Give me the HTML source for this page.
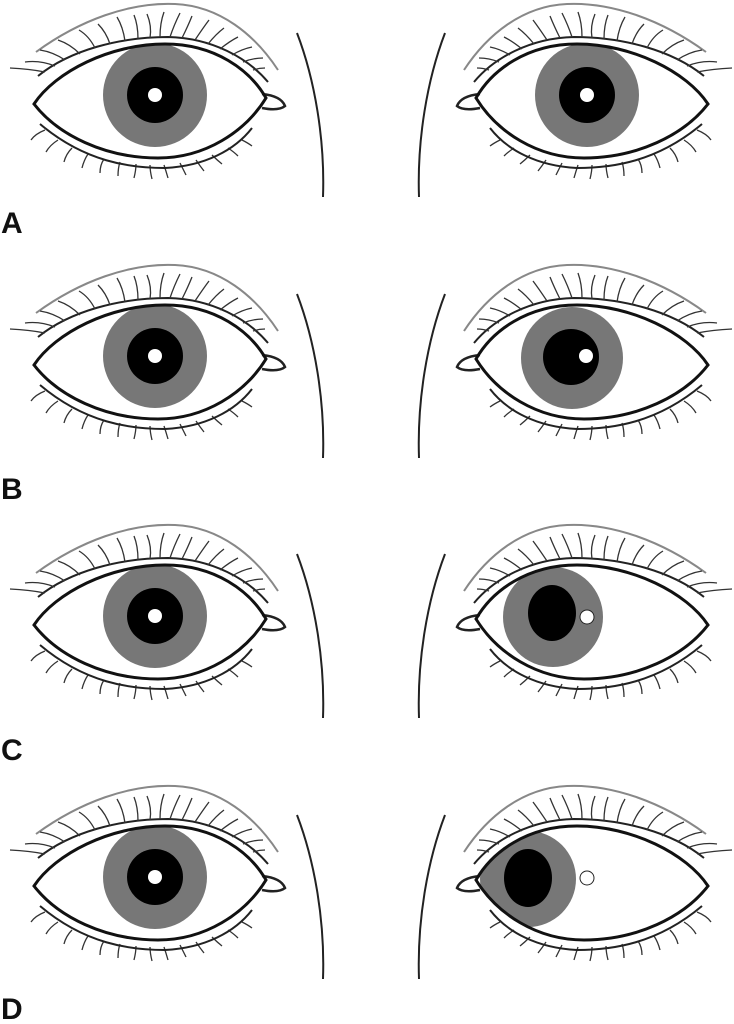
<!DOCTYPE html>
<html><head><meta charset="utf-8"><style>
html,body{margin:0;padding:0;background:#fff;width:734px;height:1024px;overflow:hidden}
svg{display:block}
.lbl{font-family:"Liberation Sans",sans-serif;font-weight:bold;font-size:30px;fill:#111}
</style></head><body>
<svg width="734" height="1024" viewBox="0 0 734 1024" xmlns="http://www.w3.org/2000/svg">
<defs>
<path id="outline" d="M34,104 C55,72 110,44 165,44 C215,44 250,70 266,98 C245,132 205,158 158,158 C105,158 58,135 34,104 Z"/>
<clipPath id="cl"><use href="#outline"/></clipPath>
<clipPath id="cr"><use href="#outline" transform="translate(742,0) scale(-1,1)"/></clipPath>
<g id="eye">
  <path d="M36,52 C80,20 130,2 175,4 C220,6 255,35 278,70" fill="none" stroke="#888" stroke-width="2"/>
  <path d="M38,76 C70,50 120,37 168,37 C212,38 248,58 268,82" fill="none" stroke="#222" stroke-width="2"/>
  <g fill="none" stroke="#333" stroke-width="1.3">
    <path d="M45,72 q-15,-3 -35,-4"/><path d="M55,66 q-15,-6 -30,-4"/><path d="M65,60 q-12,-8 -25,-10"/><path d="M80,54 q-10,-10 -22,-14"/><path d="M95,48 q-6,-12 -16,-18"/><path d="M110,44 q-4,-12 -12,-20"/><path d="M125,41 q-2,-14 -8,-24"/><path d="M138,39 q0,-14 -4,-24"/><path d="M150,38 q2,-12 -3,-24"/><path d="M160,37 q0,-14 4,-25"/><path d="M170,37 q4,-12 10,-24"/><path d="M182,38 q6,-12 10,-22"/><path d="M195,40 q8,-12 14,-20"/><path d="M208,44 q8,-10 16,-16"/><path d="M220,49 q10,-8 18,-12"/><path d="M232,55 q10,-6 20,-8"/><path d="M243,62 q10,-4 20,-4"/><path d="M253,70 q6,-2 12,-2"/>
    <path d="M45,130 q-10,4 -14,10"/><path d="M58,140 q-8,5 -12,12"/><path d="M72,148 q-6,6 -8,14"/><path d="M88,154 q-4,6 -6,14"/><path d="M104,159 q-4,6 -4,14"/><path d="M120,162 q-2,6 -2,14"/><path d="M136,164 q0,6 -2,14"/><path d="M150,165 q0,6 2,14"/><path d="M164,165 q2,6 4,13"/><path d="M180,163 q3,6 6,12"/><path d="M196,160 q4,6 8,11"/><path d="M212,155 q5,5 10,9"/><path d="M228,148 q6,4 10,8"/><path d="M242,140 q6,3 10,6"/>
  </g>
  <path d="M40,124 C85,162 130,168 165,168 C205,166 235,150 252,128" fill="none" stroke="#222" stroke-width="2"/>
  <path d="M262,94 C272,95 282,98 285,106 C280,110 272,110 262,108" fill="#fff" stroke="#222" stroke-width="2.5"/>
</g>
<g id="eyeline"><use href="#outline" fill="none" stroke="#111" stroke-width="3"/></g>
<g id="face"><path d="M297,33 C315,80 325,140 323,197" fill="none" stroke="#222" stroke-width="2"/></g>
<g id="lefteye">
  <use href="#eye"/>
  <g clip-path="url(#cl)"><circle cx="155" cy="95" r="52" fill="#777"/><circle cx="155" cy="95" r="28" fill="#000"/><circle cx="155" cy="95" r="7" fill="#fff"/></g>
  <use href="#eyeline"/>
  <use href="#face"/>
</g>
<g id="rightbase" transform="translate(742,0) scale(-1,1)">
  <use href="#eye"/><use href="#face"/>
</g>
</defs>

<use href="#lefteye"/>
<use href="#rightbase"/>
<g clip-path="url(#cr)"><circle cx="587" cy="95" r="52" fill="#777"/><circle cx="587" cy="95" r="28" fill="#000"/><circle cx="587" cy="95" r="7" fill="#fff"/></g>
<use href="#eyeline" transform="translate(742,0) scale(-1,1)"/>
<text class="lbl" x="1" y="233">A</text>

<g transform="translate(0,261)">
<use href="#lefteye"/>
<use href="#rightbase"/>
<g clip-path="url(#cr)"><circle cx="572" cy="97" r="51" fill="#777"/><circle cx="571" cy="96" r="28" fill="#000"/><circle cx="586" cy="95" r="7" fill="#fff"/></g>
<use href="#eyeline" transform="translate(742,0) scale(-1,1)"/>
</g>
<text class="lbl" x="1" y="499">B</text>

<g transform="translate(0,521)">
<use href="#lefteye"/>
<use href="#rightbase"/>
<g clip-path="url(#cr)"><circle cx="553" cy="96" r="50" fill="#777"/><ellipse cx="552" cy="92" rx="24" ry="28" fill="#000"/><circle cx="587" cy="96" r="7" fill="#fff" stroke="#222" stroke-width="1"/></g>
<use href="#eyeline" transform="translate(742,0) scale(-1,1)"/>
</g>
<text class="lbl" x="1" y="760">C</text>

<g transform="translate(0,782)">
<use href="#lefteye"/>
<use href="#rightbase"/>
<g clip-path="url(#cr)"><circle cx="528" cy="97" r="48" fill="#777"/><ellipse cx="528" cy="96" rx="24" ry="29" fill="#000"/><circle cx="587" cy="96" r="7" fill="#fff" stroke="#222" stroke-width="1"/></g>
<use href="#eyeline" transform="translate(742,0) scale(-1,1)"/>
</g>
<text class="lbl" x="1" y="1019">D</text>
</svg>
</body></html>
